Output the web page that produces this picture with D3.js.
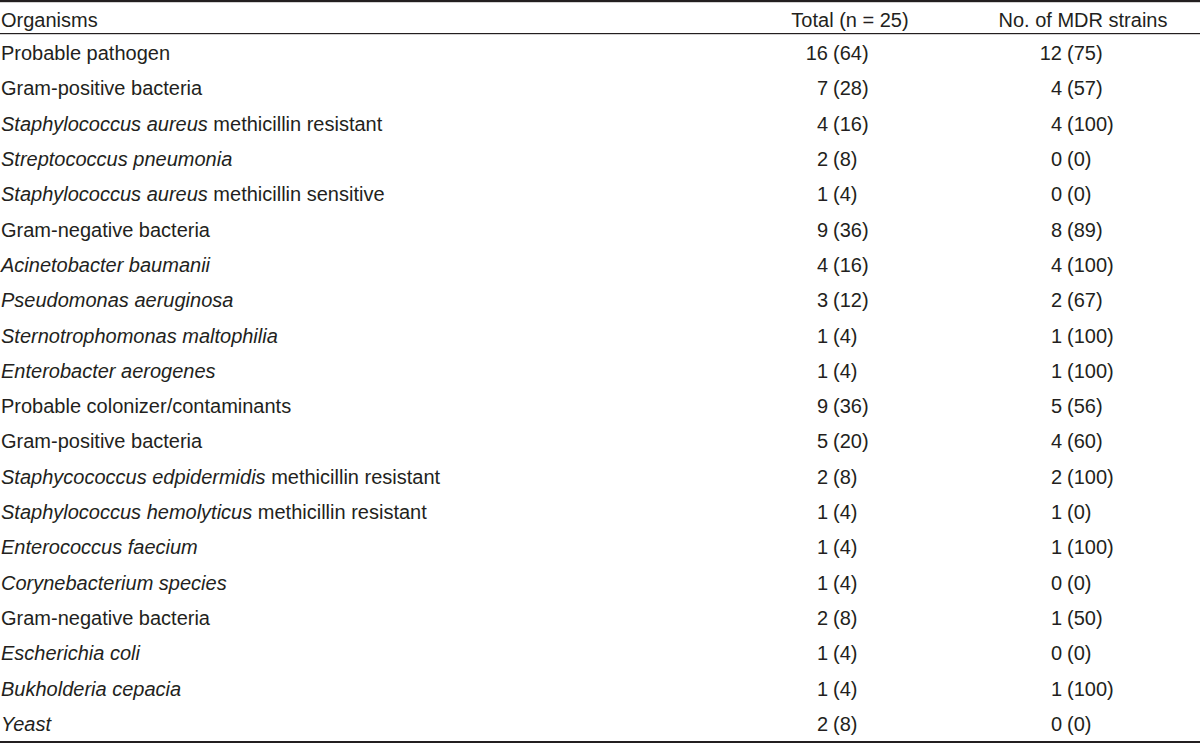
<!DOCTYPE html>
<html>
<head>
<meta charset="utf-8">
<script src="https://cdn.jsdelivr.net/npm/d3@7"></script>
<style>
  body { margin: 0; background: #fff; }
  text { font-family: "Liberation Sans", Arial, sans-serif; font-size: 20px; fill: #231f20; }
</style>
</head>
<body>
<script>
// en-têtes du tableau
const headers = ["Organisms", "Total (n = 25)", "No. of MDR strains"]

// nom en italique + suite en romain
const namesItalic = ["", "", "Staphylococcus aureus", "Streptococcus pneumonia", "Staphylococcus aureus",
  "", "Acinetobacter baumanii", "Pseudomonas aeruginosa", "Sternotrophomonas maltophilia", "Enterobacter aerogenes",
  "", "", "Staphycococcus edpidermidis", "Staphylococcus hemolyticus", "Enterococcus faecium",
  "Corynebacterium species", "", "Escherichia coli", "Bukholderia cepacia", "Yeast"]
const namesRoman = ["Probable pathogen", "Gram-positive bacteria", "methicillin resistant", "", "methicillin sensitive",
  "Gram-negative bacteria", "", "", "", "",
  "Probable colonizer/contaminants", "Gram-positive bacteria", "methicillin resistant", "methicillin resistant", "",
  "", "Gram-negative bacteria", "", "", ""]

const totals = [16, 7, 4, 2, 1, 9, 4, 3, 1, 1, 9, 5, 2, 1, 1, 1, 2, 1, 1, 2]
const totalPct = [64, 28, 16, 8, 4, 36, 16, 12, 4, 4, 36, 20, 8, 4, 4, 4, 8, 4, 4, 8]
const mdr = [12, 4, 4, 0, 0, 8, 4, 2, 1, 1, 5, 4, 2, 1, 1, 0, 1, 0, 1, 0]
const mdrPct = [75, 57, 100, 0, 0, 89, 100, 67, 100, 100, 56, 60, 100, 0, 100, 0, 50, 0, 100, 0]

const width = 1200, height = 743

const svg = d3.select("body").append("svg")
    .attr("width", width)
    .attr("height", height)

const y = d3.scalePoint()
    .domain(d3.range(totals.length))
    .range([60, 731])

// lignes horizontales
svg.append("rect").attr("x", 0).attr("y", 0).attr("width", width).attr("height", 2.2).attr("fill", "#231f20")
svg.append("rect").attr("x", 0).attr("y", 33).attr("width", width).attr("height", 1.2).attr("fill", "#231f20")
svg.append("rect").attr("x", 0).attr("y", 741).attr("width", width).attr("height", 2.2).attr("fill", "#231f20")

// en-têtes
svg.append("text").attr("x", 1).attr("y", 27).text(headers[0])
svg.append("text").attr("x", 850).attr("y", 27).attr("text-anchor", "middle").text(headers[1])
svg.append("text").attr("x", 1083).attr("y", 27).attr("text-anchor", "middle").text(headers[2])

const rows = svg.selectAll("g.row")
    .data(d3.range(totals.length))
    .enter()
    .append("g")
    .attr("class", "row")
    .attr("transform", i => `translate(0,${y(i)})`)

// première colonne
const label = rows.append("text").attr("x", 1)
label.append("tspan")
    .attr("font-style", "italic")
    .text(i => namesItalic[i])
label.append("tspan")
    .text(i => (namesItalic[i] && namesRoman[i] ? " " : "") + namesRoman[i])

// colonnes chiffrées, alignées sur l'espace
const cols = [
  { x: 828, n: totals, p: totalPct },
  { x: 1062, n: mdr, p: mdrPct }
]
cols.forEach(c => {
  rows.append("text")
      .attr("x", c.x)
      .attr("text-anchor", "end")
      .text(i => c.n[i])
  rows.append("text")
      .attr("x", c.x + 5)
      .text(i => `(${c.p[i]})`)
})
</script>
</body>
</html>
